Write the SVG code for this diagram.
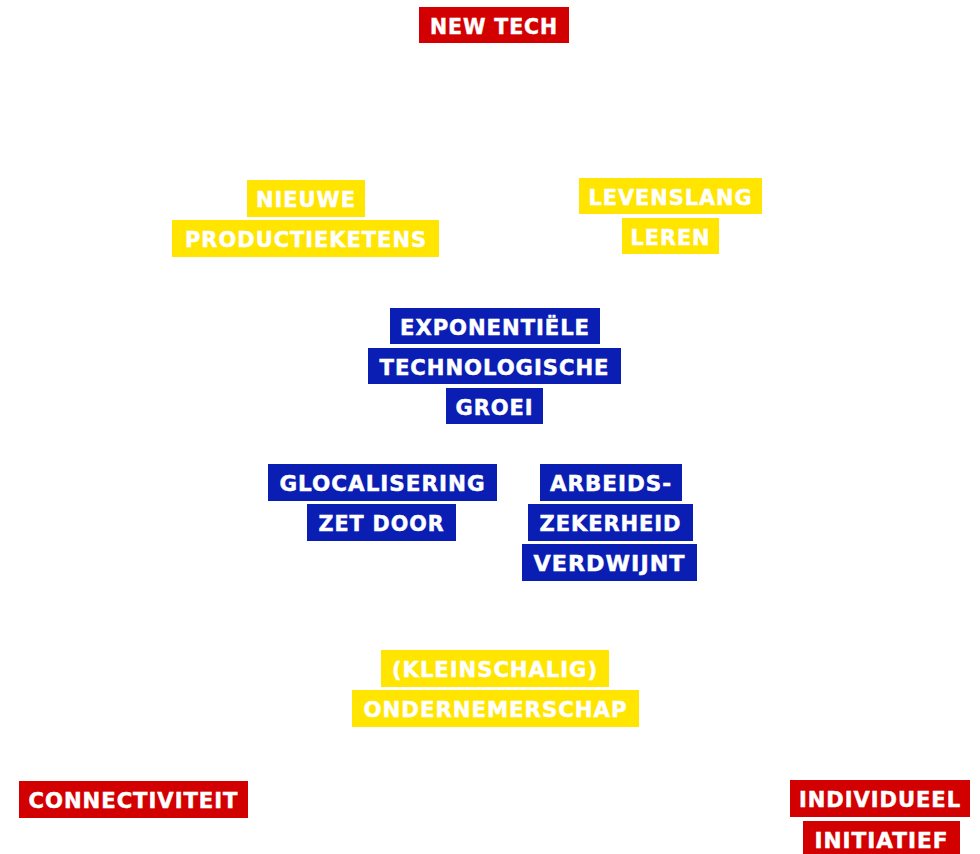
<svg xmlns="http://www.w3.org/2000/svg" width="980" height="854" viewBox="0 0 980 854">
<style>
.r{fill:#d20000}.y{fill:#ffe500}.b{fill:#0a1eb4}
text{font-family:"DejaVu Sans","Liberation Sans",sans-serif;font-weight:bold;font-size:22px;letter-spacing:1px;fill:#ffffff;stroke:#ffffff;stroke-width:0.5px;text-anchor:middle}
</style>
<rect width="980" height="854" fill="#ffffff"/>
<g id="connectors"></g>
<g id="new-tech">
<rect class="r" x="419" y="7" width="150" height="36"/>
<text x="494" y="34" textLength="128" lengthAdjust="spacingAndGlyphs">NEW TECH</text>
</g>
<g id="nieuwe-productieketens">
<rect class="y" x="247" y="180" width="118" height="37"/>
<text x="306" y="207" textLength="100" lengthAdjust="spacingAndGlyphs">NIEUWE</text>
<rect class="y" x="172" y="220" width="267" height="37"/>
<text x="306" y="247" textLength="242" lengthAdjust="spacingAndGlyphs">PRODUCTIEKETENS</text>
</g>
<g id="levenslang-leren">
<rect class="y" x="579" y="178" width="183" height="36"/>
<text x="670.5" y="205" textLength="164" lengthAdjust="spacingAndGlyphs">LEVENSLANG</text>
<rect class="y" x="622" y="218" width="97" height="36"/>
<text x="670.5" y="245" textLength="80" lengthAdjust="spacingAndGlyphs">LEREN</text>
</g>
<g id="exponentiele-groei">
<rect class="b" x="390" y="308" width="210" height="36"/>
<text x="495" y="335" textLength="190" lengthAdjust="spacingAndGlyphs">EXPONENTIËLE</text>
<rect class="b" x="368" y="348" width="253" height="36"/>
<text x="494.5" y="375" textLength="230" lengthAdjust="spacingAndGlyphs">TECHNOLOGISCHE</text>
<rect class="b" x="446" y="388" width="97" height="36"/>
<text x="494.5" y="415" textLength="78" lengthAdjust="spacingAndGlyphs">GROEI</text>
</g>
<g id="glocalisering">
<rect class="b" x="268" y="464" width="229" height="37"/>
<text x="382.5" y="491" textLength="206" lengthAdjust="spacingAndGlyphs">GLOCALISERING</text>
<rect class="b" x="307" y="504" width="149" height="37"/>
<text x="381.5" y="531" textLength="126" lengthAdjust="spacingAndGlyphs">ZET DOOR</text>
</g>
<g id="arbeidszekerheid">
<rect class="b" x="540" y="464" width="142" height="37"/>
<text x="611" y="491" textLength="122" lengthAdjust="spacingAndGlyphs">ARBEIDS-</text>
<rect class="b" x="528" y="504" width="165" height="37"/>
<text x="610.5" y="531" textLength="142" lengthAdjust="spacingAndGlyphs">ZEKERHEID</text>
<rect class="b" x="522" y="544" width="175" height="37"/>
<text x="609.5" y="571" textLength="152" lengthAdjust="spacingAndGlyphs">VERDWIJNT</text>
</g>
<g id="ondernemerschap">
<rect class="y" x="381" y="650" width="228" height="37"/>
<text x="495" y="677" textLength="206" lengthAdjust="spacingAndGlyphs">(KLEINSCHALIG)</text>
<rect class="y" x="352" y="690" width="287" height="37"/>
<text x="495.5" y="717" textLength="264" lengthAdjust="spacingAndGlyphs">ONDERNEMERSCHAP</text>
</g>
<g id="connectiviteit">
<rect class="r" x="19" y="781" width="229" height="37"/>
<text x="133.5" y="808" textLength="210" lengthAdjust="spacingAndGlyphs">CONNECTIVITEIT</text>
</g>
<g id="individueel-initiatief">
<rect class="r" x="790" y="780" width="180" height="37"/>
<text x="880" y="807" textLength="162" lengthAdjust="spacingAndGlyphs">INDIVIDUEEL</text>
<rect class="r" x="803" y="821" width="157" height="37"/>
<text x="881.5" y="848" textLength="134" lengthAdjust="spacingAndGlyphs">INITIATIEF</text>
</g>
</svg>
